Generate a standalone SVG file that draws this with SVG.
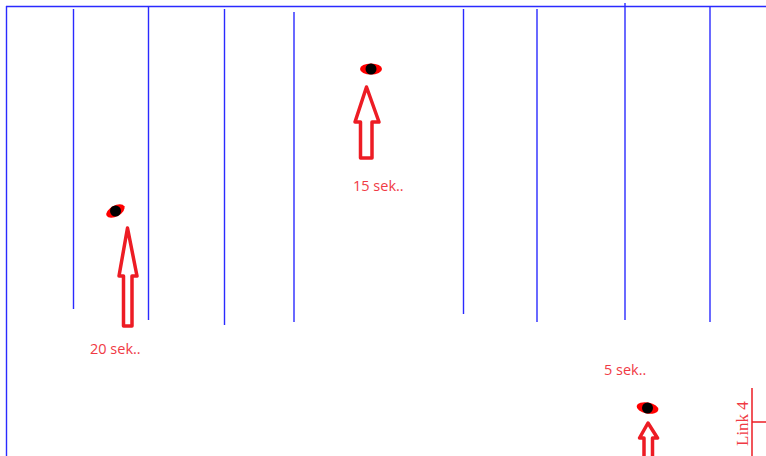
<svg xmlns="http://www.w3.org/2000/svg" width="766" height="456" viewBox="0 0 766 456">
<style>
.g{stroke:#2a2aff;stroke-width:1.4;fill:none}
.arr{fill:none;stroke:#ed1c24;stroke-width:3.5;stroke-linejoin:round}
.lbl{font-family:"Open Sans","Liberation Sans",sans-serif;font-size:14.5px;fill:#f03a44}
.halo{fill:#ff0000}
.core{fill:#000}
</style>
<rect width="766" height="456" fill="#fff"/>
<g id="connectors">
<line class="g" x1="6" y1="6.5" x2="766" y2="6.5"/>
<line class="g" x1="6.5" y1="6" x2="6.5" y2="456"/>
<line class="g" x1="73.5" y1="9" x2="73.5" y2="309"/>
<line class="g" x1="148.5" y1="6" x2="148.5" y2="320"/>
<line class="g" x1="224.5" y1="9" x2="224.5" y2="325"/>
<line class="g" x1="294" y1="12" x2="294" y2="322"/>
<line class="g" x1="463.5" y1="9" x2="463.5" y2="314"/>
<line class="g" x1="537" y1="9" x2="537" y2="322"/>
<line class="g" x1="625" y1="3" x2="625" y2="320"/>
<line class="g" x1="710" y1="6" x2="710" y2="322"/>
</g>
<g id="marker1">
<ellipse class="halo" cx="115.5" cy="211" rx="10" ry="5.5" transform="rotate(-28 115.5 211)"/>
<circle class="core" cx="115.5" cy="211" r="5.5"/>
</g>
<g id="arrow1">
<path class="arr" d="M127.5 228 L137 276 L132 276 L132 326 L123.5 326 L123.5 276 L119 276 Z"/>
</g>
<g id="label1"><text class="lbl" x="90" y="354">20 sek..</text></g>
<g id="marker2">
<ellipse class="halo" cx="371" cy="69" rx="11" ry="5.5"/>
<circle class="core" cx="371" cy="69" r="5.5"/>
</g>
<g id="arrow2">
<path class="arr" d="M366.5 87 L379 122 L372 122 L372 158 L360.5 158 L360.5 122 L355 122 Z"/>
</g>
<g id="label2"><text class="lbl" x="353" y="191">15 sek..</text></g>
<g id="marker3">
<ellipse class="halo" cx="647.5" cy="408" rx="11" ry="5.5" transform="rotate(10 647.5 408)"/>
<circle class="core" cx="647.5" cy="408" r="5.5"/>
</g>
<g id="arrow3">
<path class="arr" d="M648 423 L657.5 438 L652.5 438 L652.5 458 L644 458 L644 438 L639.5 438 Z"/>
</g>
<g id="label3"><text class="lbl" x="604" y="375">5 sek..</text></g>
<g id="link4">
<line x1="752" y1="388" x2="752" y2="456" stroke="#ed1c24" stroke-width="1.5"/>
<line x1="752" y1="422" x2="766" y2="422" stroke="#ed1c24" stroke-width="1.5"/>
<text x="0" y="0" transform="translate(748 446) rotate(-90)" font-family="'Liberation Serif',serif" font-size="17" fill="#f03a44">Link 4</text>
</g>
</svg>
